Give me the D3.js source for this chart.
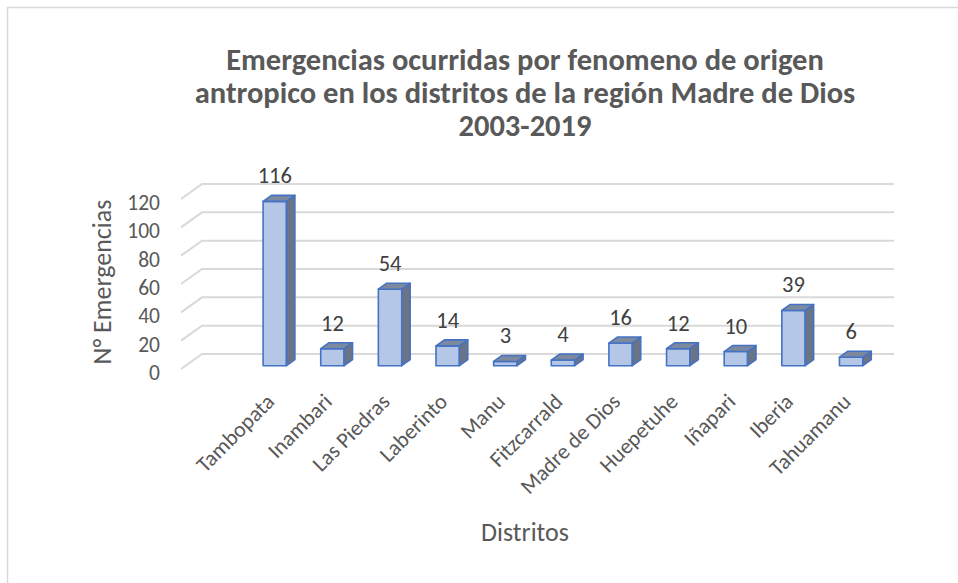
<!DOCTYPE html>
<html>
<head>
<meta charset="utf-8">
<script src="https://cdn.jsdelivr.net/npm/d3@7"></script>
<style>
  html, body { margin: 0; padding: 0; background: #fff; }
  svg text { font-family: Carlito, Lato, "Open Sans", sans-serif; }
</style>
</head>
<body>
<div id="chart"></div>
<script>
const districts = ["Tambopata", "Inambari", "Las Piedras", "Laberinto", "Manu", "Fitzcarrald",
    "Madre de Dios", "Huepetuhe", "Iñapari", "Iberia", "Tahuamanu"];
const emergencies = [116, 12, 54, 14, 3, 4, 16, 12, 10, 39, 6];
const yTicks = [0, 20, 40, 60, 80, 100, 120];
const titleLines = ["Emergencias ocurridas por fenomeno de origen",
    "antropico en los distritos de la región Madre de Dios",
    "2003-2019"];

function renderChart() {
    const width = 958;
    const height = 583;
    // oblique depth vector of the 3D floor (front -> back)
    const DX = 21;
    const DY = 15;
    const zFront = 0.22;
    const zBack = 0.62;
    const floorLeft = 181;
    const floorRight = 873;

    const svg = d3.select("#chart").append("svg")
        .attr("width", width)
        .attr("height", height)
        .attr("viewBox", `0 0 ${width} ${height}`);

    svg.append("rect")
        .attr("x", 7.5).attr("y", 7.5)
        .attr("width", width + 20).attr("height", height + 20)
        .attr("fill", "#fff")
        .attr("stroke", "#d9d9d9")
        .attr("stroke-width", 1.5);

    const x = d3.scaleBand()
        .domain(districts)
        .range([floorLeft, floorRight])
        .paddingInner(0.594)
        .paddingOuter(0.8)
        .align(0.84);

    const y = d3.scaleLinear().domain([0, 120]).range([369, 199]);

    const P = (px, v, z) => [px + z * DX, y(v) - z * DY];

    // walls: back gridlines + side slant lines
    const grid = svg.append("g")
        .attr("stroke", "#d9d9d9")
        .attr("stroke-width", 2)
        .attr("fill", "none");
    grid.selectAll("path")
        .data(yTicks)
        .join("path")
        .attr("d", (d) => {
            const a = P(floorLeft, d, 0);
            const b = P(floorLeft, d, 1);
            const c = P(floorRight, d, 1);
            return `M${a}L${b}L${c}`;
        });

    // y tick labels
    svg.append("g")
        .selectAll("text")
        .data(yTicks)
        .join("text")
        .attr("x", 160)
        .attr("y", (d) => y(d) + 4)
        .attr("text-anchor", "end")
        .attr("dominant-baseline", "central")
        .attr("fill", "#595959")
        .style("font-size", "21.5px")
        .text((d) => d);

    const rows = districts.map((name, i) => ({ name, value: emergencies[i] }));
    const poly = (pts) => "M" + pts.map((p) => p.join(",")).join("L") + "Z";

    const bars = svg.append("g")
        .selectAll("g")
        .data(rows)
        .join("g")
        .attr("stroke", "#4472c4")
        .attr("stroke-width", 1.6)
        .attr("stroke-linejoin", "round");

    bars.append("path")
        .attr("fill", "#b4c7e7")
        .attr("d", (d) => {
            const x0 = x(d.name), x1 = x0 + x.bandwidth();
            return poly([P(x0, 0, zFront), P(x1, 0, zFront), P(x1, d.value, zFront), P(x0, d.value, zFront)]);
        });
    bars.append("path")
        .attr("fill", "#6b7486")
        .attr("d", (d) => {
            const x1 = x(d.name) + x.bandwidth();
            return poly([P(x1, 0, zFront), P(x1, 0, zBack), P(x1, d.value, zBack), P(x1, d.value, zFront)]);
        });
    bars.append("path")
        .attr("fill", "#7d899f")
        .attr("d", (d) => {
            const x0 = x(d.name), x1 = x0 + x.bandwidth();
            return poly([P(x0, d.value, zFront), P(x1, d.value, zFront), P(x1, d.value, zBack), P(x0, d.value, zBack)]);
        });

    // data labels
    svg.append("g")
        .selectAll("text")
        .data(rows)
        .join("text")
        .attr("x", (d) => x(d.name) + x.bandwidth() / 2 + zFront * DX)
        .attr("y", (d) => P(0, d.value, zBack)[1] - 12)
        .attr("text-anchor", "middle")
        .attr("fill", "#404040")
        .style("font-size", "22.5px")
        .text((d) => d.value);

    // category labels
    svg.append("g")
        .selectAll("text")
        .data(districts)
        .join("text")
        .attr("transform", (d) => {
            const cx = x(d) + x.bandwidth() / 2 + zFront * DX + 1;
            return `translate(${cx},403) rotate(-45)`;
        })
        .attr("text-anchor", "end")
        .attr("fill", "#595959")
        .style("font-size", "22px")
        .text((d) => d);

    // axis titles
    svg.append("text")
        .attr("transform", "translate(102,282) rotate(-90)")
        .attr("text-anchor", "middle")
        .attr("dominant-baseline", "central")
        .attr("fill", "#595959")
        .style("font-size", "26px")
        .text("N° Emergencias");

    svg.append("text")
        .attr("x", 525)
        .attr("y", 541)
        .attr("text-anchor", "middle")
        .attr("fill", "#595959")
        .style("font-size", "26px")
        .text("Distritos");

    // chart title
    svg.append("g")
        .selectAll("text")
        .data(titleLines)
        .join("text")
        .attr("x", 525)
        .attr("y", (d, i) => 70 + i * 33)
        .attr("text-anchor", "middle")
        .attr("fill", "#595959")
        .style("font-size", "30.5px")
        .style("font-weight", "bold")
        .text((d) => d);
}

renderChart();
</script>
</body>
</html>
